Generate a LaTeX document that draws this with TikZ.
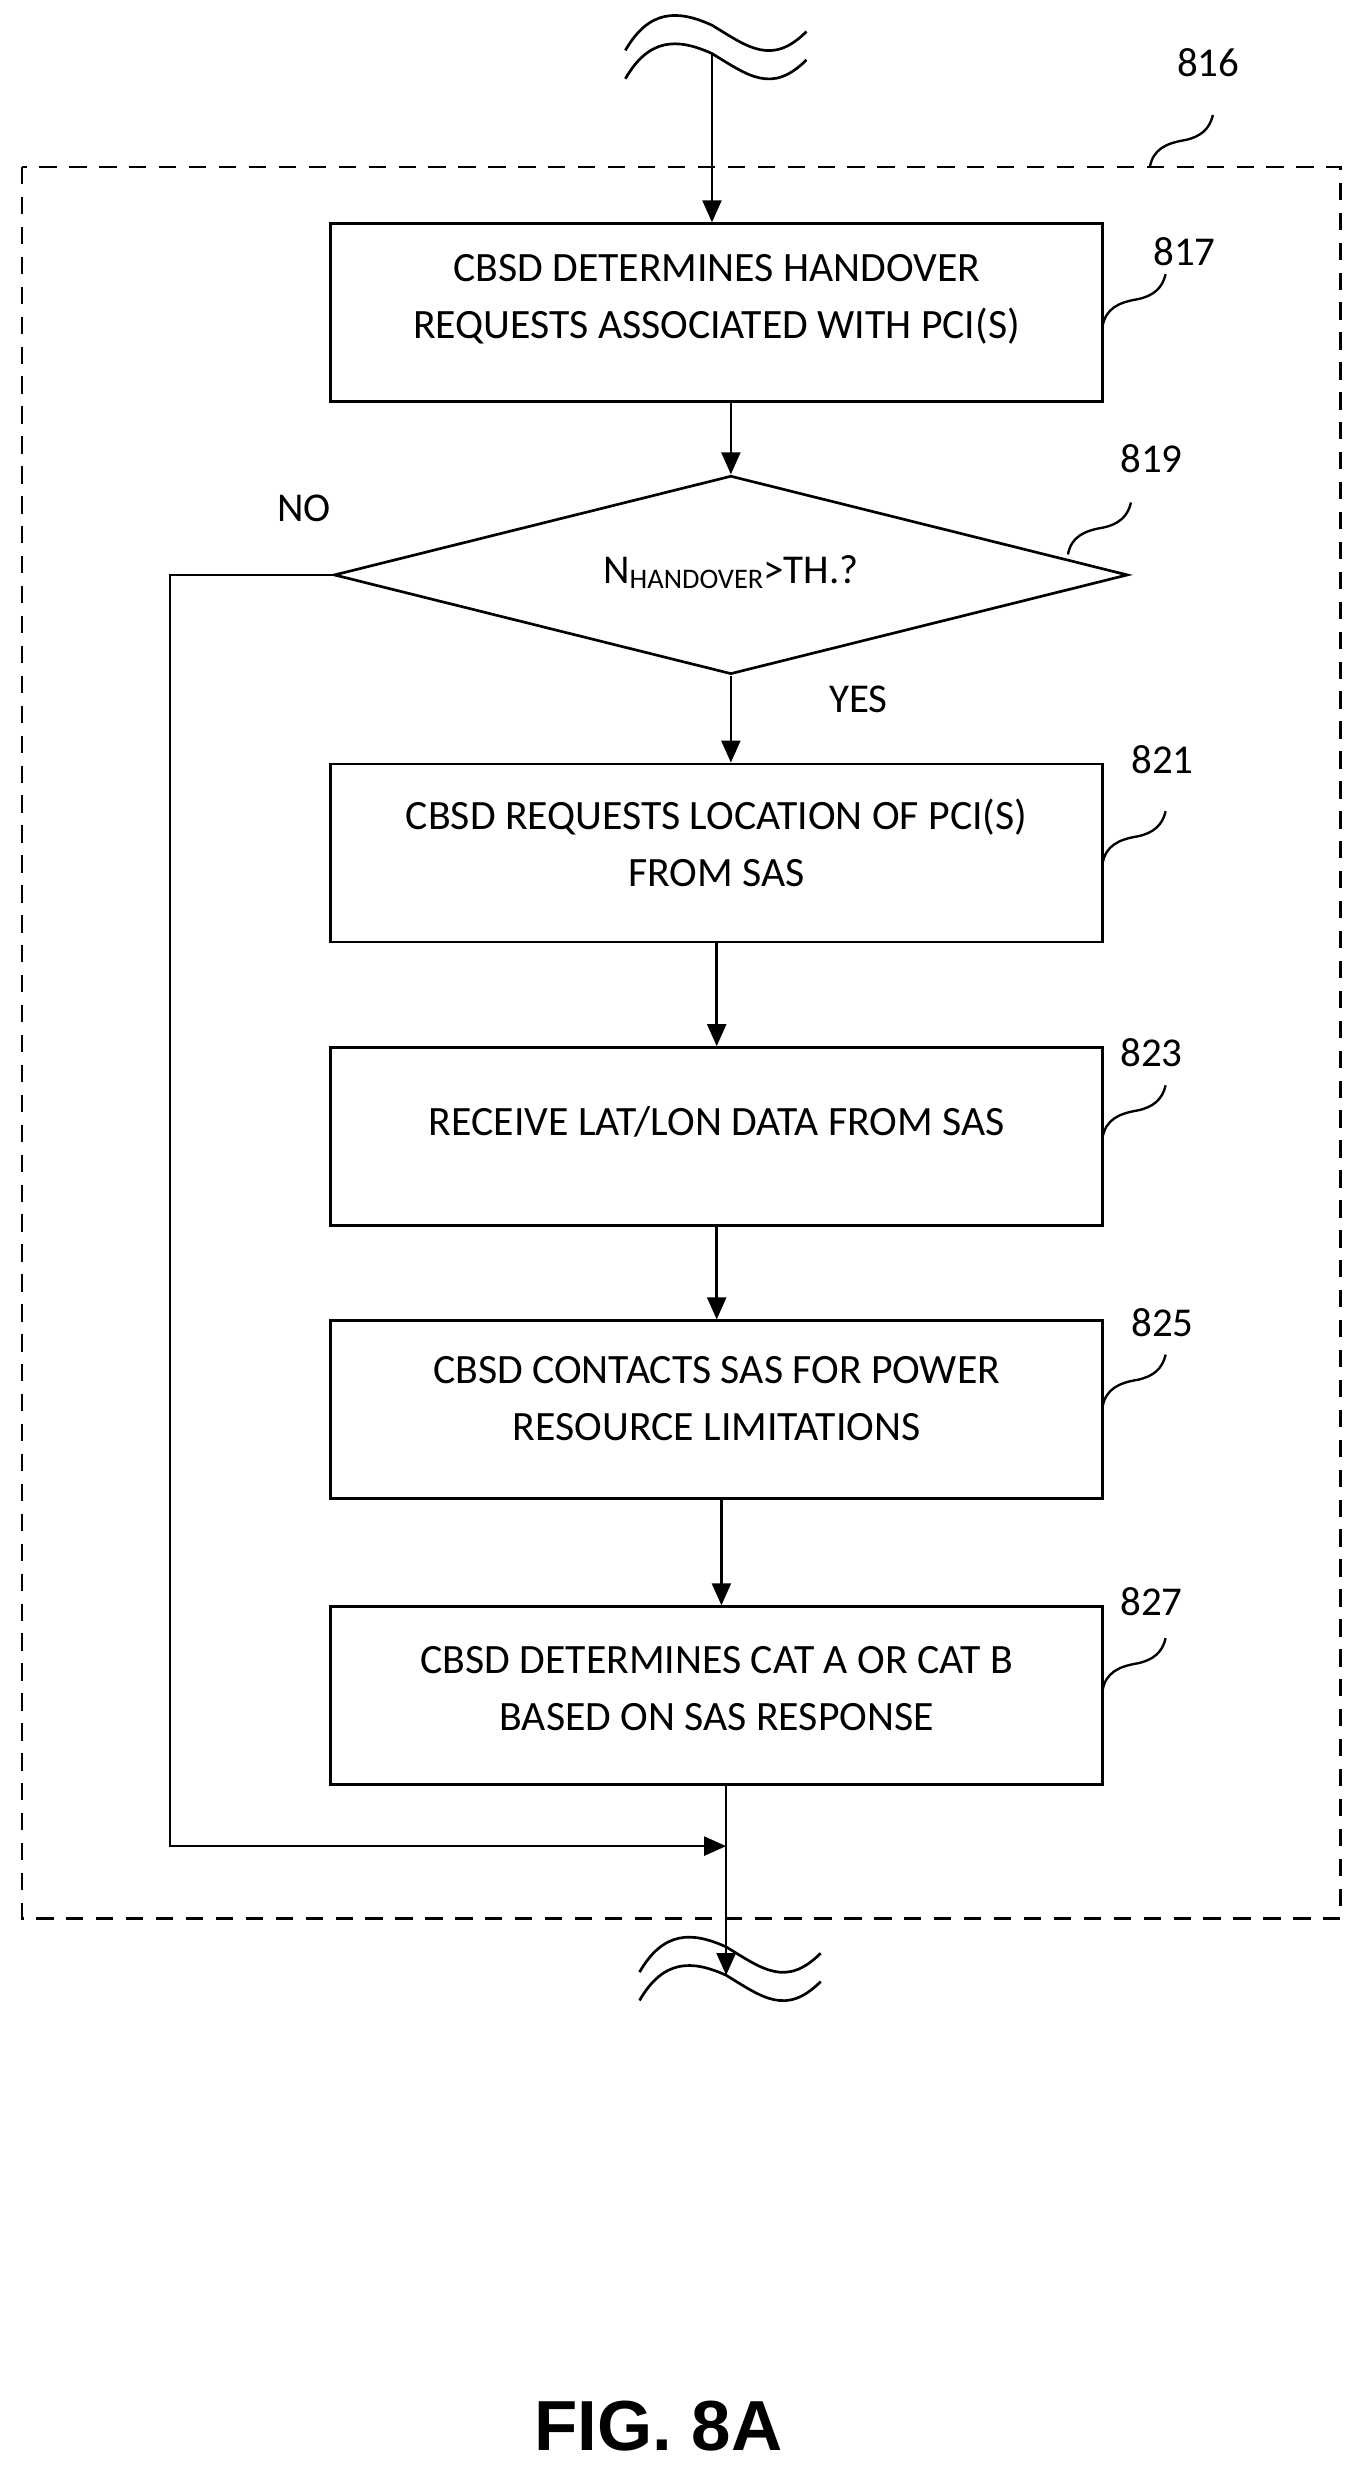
\documentclass[tikz,border=0pt]{standalone}
\usepackage{fontspec}
\setmainfont{Carlito}
\newfontfamily\figfont{Liberation Sans}
\usetikzlibrary{shapes.geometric,arrows.meta}
\begin{document}
\begin{tikzpicture}[x=1pt,y=-1pt,
  line width=1.7pt,
  box/.style={draw,rectangle,minimum width=490pt,minimum height=113pt,inner sep=0pt},
  txt/.style={align=center,font=\fontsize{26.5}{36}\selectfont},
  lab/.style={font=\fontsize{26}{30}\selectfont},
  arr/.style={-{Triangle[width=12pt,length=14pt]}},
  sq/.style={line width=1.5pt}]
\useasboundingbox (0,0) rectangle (866,1570);
\draw[dash pattern=on 11pt off 8pt, line width=1.6pt] (14,106) rectangle (851,1218);
% top wave
\coordinate (tw) at (452,34);
\draw (397,32) .. controls (412,6) and (430,6) .. (452,16) .. controls (475,30) and (490,42) .. (512,20);
\draw (397,50) .. controls (412,24) and (430,24) .. (452,34) .. controls (475,48) and (490,60) .. (512,38);
% boxes
\node[box] (b817) at (455,198.5) {};
\node[txt] (t817) at (455,190) {CBSD DETERMINES HANDOVER\\REQUESTS ASSOCIATED WITH PCI(S)};
\node[draw,diamond,minimum width=504pt,minimum height=126pt,inner sep=0pt] (d819) at (464,365) {};
\node[font=\fontsize{26}{30}\selectfont] (t819) at (464,363) {N{\fontsize{18}{20}\selectfont\raisebox{-3pt}{HANDOVER}}>TH.?};
\node[box] (b821) at (455,541.5) {};
\node[txt] (t821) at (455,535) {CBSD REQUESTS LOCATION OF PCI(S)\\FROM SAS};
\node[box] (b823) at (455,721.5) {};
\node[txt] (t823) at (455,712) {RECEIVE LAT/LON DATA FROM SAS};
\node[box] (b825) at (455,895) {};
\node[txt] (t825) at (455,888) {CBSD CONTACTS SAS FOR POWER\\RESOURCE LIMITATIONS};
\node[box] (b827) at (455,1076.5) {};
\node[txt] (t827) at (455,1072) {CBSD DETERMINES CAT A OR CAT B\\BASED ON SAS RESPONSE};
\node[lab] (no) at (193,323) {NO};
\node[lab] (yes) at (545,444) {YES};
% labels
\node[lab] (l816) at (767,40) {816};
\node[lab] (l817) at (752,160) {817};
\node[lab] (l819) at (731,291) {819};
\node[lab] (l821) at (738,482) {821};
\node[lab] (l823) at (731,668) {823};
\node[lab] (l825) at (738,840) {825};
\node[lab] (l827) at (731,1017) {827};
% squiggles
\foreach \x/\y in {730/106, 700/207, 678/352, 700/548, 700/722, 700/893, 700/1073}{
  \draw[sq] (\x,\y) .. controls (\x+2,\y-11) and (\x+10,\y-15) .. (\x+22,\y-17) .. controls (\x+32,\y-19) and (\x+38,\y-24) .. (\x+40,\y-33);
}
% arrows
\draw[arr] (tw) -- (b817.north -| tw);
\draw[arr] (b817.south -| d819.north) -- (d819.north);
\draw[arr] (d819.south) -- (b821.north -| d819.south);
\draw[arr] (b821.south) -- (b823.north);
\draw[arr] (b823.south) -- (b825.north);
\draw[arr] ([xshift=3pt]b825.south) -- ([xshift=3pt]b827.north);
\coordinate (m) at (461,1172);
\coordinate (bw) at (461,1254);
\draw[arr] (d819.west) -- (108,365) -- (108,1172) -- (m);
\draw[arr] (b827.south -| m) -- (bw);
% bottom wave
\draw (406,1252) .. controls (421,1226) and (439,1226) .. (461,1236) .. controls (484,1250) and (499,1262) .. (521,1240);
\draw (406,1270) .. controls (421,1244) and (439,1244) .. (461,1254) .. controls (484,1268) and (499,1280) .. (521,1258);
\node[font=\figfont\bfseries\fontsize{45}{50}\selectfont] (fig) at (418,1540) {FIG. 8A};
\end{tikzpicture}
\end{document}
